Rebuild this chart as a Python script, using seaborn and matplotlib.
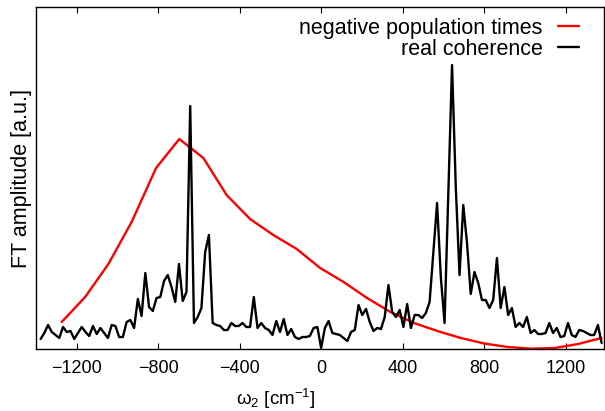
import matplotlib
matplotlib.use("Agg")
import matplotlib.pyplot as plt
import numpy as np
import seaborn as sns

# FT amplitude of the real coherence, regular omega_2 sampling grid [cm^-1]
omega_start = -1376.5
omega_step = 18.35
coherence = [
    10, 16, 24, 17, 14, 11, 22, 17, 18, 10,
    16, 22, 17, 13, 23, 15, 21, 16, 11, 24,
    23, 12, 12, 27, 29, 21, 50, 33, 76, 42,
    38, 51, 52, 68, 74, 62, 47, 85, 48, 57,
    243, 26, 32, 41, 97, 114, 26, 24, 23, 19,
    19, 26, 23, 23, 26, 22, 22, 52, 21, 26,
    21, 19, 14, 28, 17, 30, 14, 20, 12, 10,
    12, 12, 13, 21, 22, 1, 21, 28, 16, 15,
    14, 11, 8, 17, 19, 44, 34, 40, 27, 18,
    21, 20, 32, 64, 37, 32, 39, 22, 45, 21,
    34, 34, 31, 36, 47, 96, 146, 72, 26, 154,
    284, 162, 74, 144, 106, 55, 77, 66, 49, 49,
    41, 49, 91, 41, 62, 34, 41, 22, 26, 22,
    32, 16, 19, 15, 15, 16, 26, 16, 21, 12,
    13, 26, 14, 12, 19, 18, 16, 14, 14, 24,
    6,
]

# negative population times (coarser sampling)
neg_omega = [-1273, -1158, -1044, -930, -810, -696, -578, -464, -349, -235,
             -120, -5, 110, 225, 340, 455, 570, 685, 800, 915,
             1030, 1145, 1260, 1375]
neg_amp = [27, 52, 85, 127, 181, 210, 191, 154, 130, 114,
           100, 81, 67, 51, 37, 26, 18, 11, 5.5, 2,
           0.3, 1, 5, 11]

x_ticks = [-1200, -800, -400, 0, 400, 800, 1200]

sns.set_theme(style="ticks")
plt.rcParams["font.family"] = ["Liberation Sans", "DejaVu Sans"]
plt.rcParams["mathtext.default"] = "regular"
# plain black text like the gnuplot original
plt.rcParams["text.color"] = "black"
plt.rcParams["axes.labelcolor"] = "black"
plt.rcParams["xtick.color"] = "black"

omega = omega_start + omega_step * np.arange(len(coherence))

fig = plt.figure(figsize=(6.05, 4.11), dpi=100)
ax = fig.add_axes([36 / 605, 1 - 349 / 411, 567.5 / 605, 342 / 411])

sns.lineplot(x=neg_omega, y=neg_amp, color="#ff0000", lw=1.7,
             label="negative population times", ax=ax)
sns.lineplot(x=omega, y=coherence, color="black", lw=1.7,
             label="real coherence", ax=ax)

ax.set_xlim(-1399, 1385)
ax.set_ylim(0, 342)
ax.set_xticks(x_ticks)
ax.set_yticks([])
ax.tick_params(axis="x", direction="in", top=True, length=4.5, width=0.8,
               labelsize=13, pad=8, colors="black")
for sp in ax.spines.values():
    sp.set_visible(True)
    sp.set_linewidth(1.0)
    sp.set_color("black")

ax.set_xlabel(r"ω$_2$ [cm$^{-1}$]", fontsize=13.5)
ax.xaxis.set_label_coords(0.423, -0.11)
ax.set_ylabel("FT amplitude [a.u.]", fontsize=15.5, labelpad=3)

# gnuplot style key: text right aligned, sample on the right
leg = ax.legend(loc="upper right", bbox_to_anchor=(0.957, 0.968), markerfirst=False,
                frameon=False, handlelength=1.0, handletextpad=0.7,
                labelspacing=0.0, borderaxespad=0, borderpad=0, fontsize=15.5)
for t in leg.get_texts():
    t.set_color("black")

fig.savefig("out.png", dpi=100)
